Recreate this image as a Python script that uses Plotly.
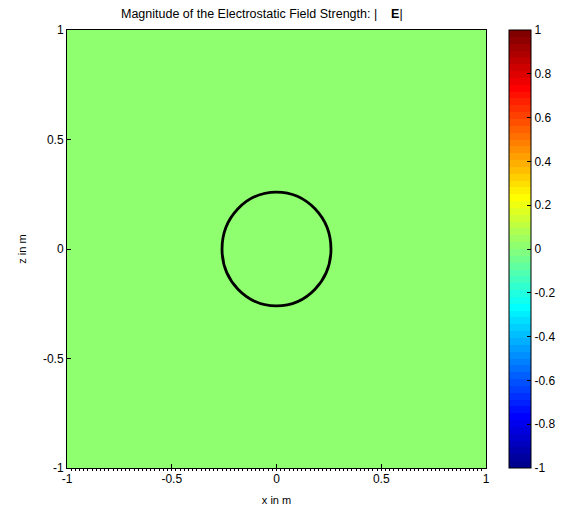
import numpy as np
import plotly.graph_objects as go

# Grid of the computed field |E| (uniform zero everywhere)
x_vals = np.linspace(-1, 1, 101)
z_vals = np.linspace(-1, 1, 101)
field = np.zeros((len(z_vals), len(x_vals)))

# Conductor cross-section radius (m)
radius = 0.26

axis_ticks = [-1, -0.5, 0, 0.5, 1]
axis_ticktext = ["-1", "-0.5", "0", "0.5", "1"]
cbar_ticks = [-1, -0.8, -0.6, -0.4, -0.2, 0, 0.2, 0.4, 0.6, 0.8, 1]
cbar_ticktext = ["-1", "-0.8", "-0.6", "-0.4", "-0.2", "0", "0.2", "0.4", "0.6", "0.8", "1"]


def jet(n):
    """Discrete MATLAB-style jet colormap with n levels."""
    cols = []
    for i in range(n):
        t = (i + 1) / n
        r = np.clip(1.5 - abs(4 * t - 3), 0, 1)
        g = np.clip(1.5 - abs(4 * t - 2), 0, 1)
        b = np.clip(1.5 - abs(4 * t - 1), 0, 1)
        cols.append("rgb(%d,%d,%d)" % (round(r * 255), round(g * 255), round(b * 255)))
    scale = []
    for i, c in enumerate(cols):
        scale.append([i / n, c])
        scale.append([(i + 1) / n, c])
    return scale


colorscale = jet(64)

fig = go.Figure()
fig.add_trace(go.Heatmap(
    x=x_vals, y=z_vals, z=field,
    zmin=-1, zmax=1, colorscale=colorscale,
    zsmooth=False, hoverinfo="skip",
    colorbar=dict(
        x=1.0549, xanchor="left", y=0.5, yanchor="middle",
        len=1.0, lenmode="fraction", thickness=22,
        outlinecolor="black", outlinewidth=1,
        tickvals=cbar_ticks, ticktext=cbar_ticktext,
        ticks="inside", ticklen=4, tickcolor="black",
        tickfont=dict(family="Liberation Sans, Arial", size=12, color="black"),
        xpad=0, ypad=0,
    ),
))

fig.add_shape(type="circle", xref="x", yref="y",
              x0=-radius, x1=radius, y0=-radius, y1=radius,
              line=dict(color="black", width=2.8))

axis_font = dict(family="Liberation Sans, Arial", size=12, color="black")
fig.update_xaxes(
    range=[-1, 1], tickvals=axis_ticks, ticktext=axis_ticktext,
    ticks="inside", ticklen=4, tickcolor="black",
    showline=True, linecolor="black", linewidth=1, mirror=True,
    showgrid=False, zeroline=False, tickfont=axis_font,
    minor=dict(dtick=0.02, ticks="outside", ticklen=2, tickcolor="black", showgrid=False),
    title=dict(text="x in m", font=dict(family="Liberation Sans, Arial", size=11, color="black"), standoff=10),
)
fig.update_yaxes(
    range=[-1, 1], tickvals=axis_ticks, ticktext=axis_ticktext,
    ticks="inside", ticklen=4, tickcolor="black",
    showline=True, linecolor="black", linewidth=1, mirror=True,
    showgrid=False, zeroline=False, tickfont=axis_font,
    title=dict(text="z in m", font=dict(family="Liberation Sans, Arial", size=11, color="black"), standoff=14),
)

fig.update_layout(
    width=577, height=515,
    margin=dict(l=67, r=91, t=30, b=47),
    paper_bgcolor="white", plot_bgcolor="white",
    title=dict(
        text="Magnitude of the Electrostatic Field Strength: |    <b>E</b>|",
        xref="paper", x=0.465, xanchor="center", y=0.983, yanchor="top",
        font=dict(family="Liberation Sans, Arial", size=12.5, color="black"),
    ),
    showlegend=False,
)

fig.write_html("out.html")
